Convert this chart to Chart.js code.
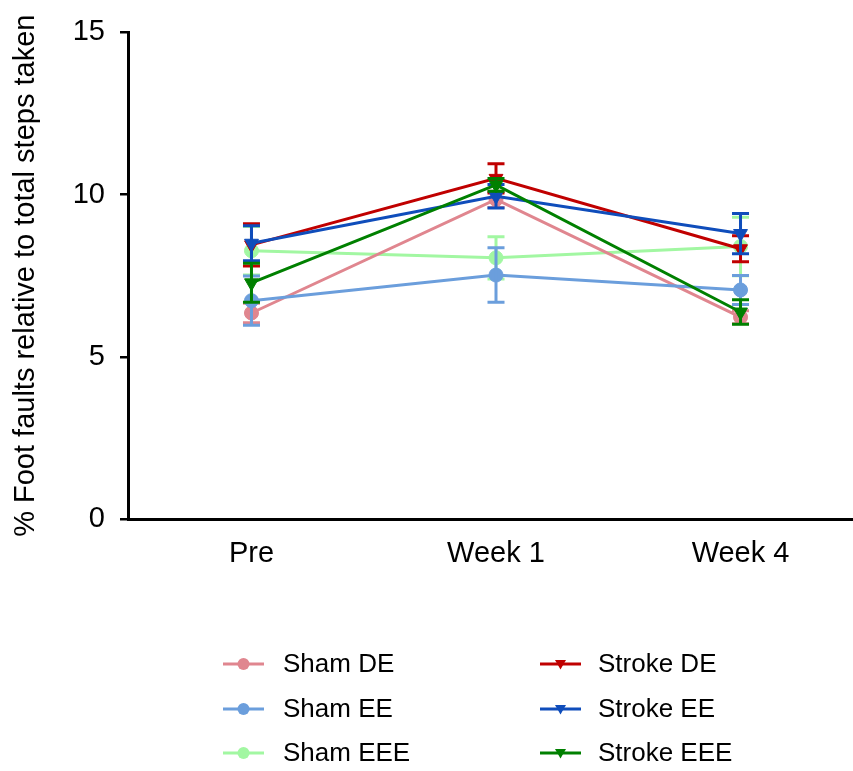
<!DOCTYPE html>
<html>
<head>
<meta charset="utf-8">
<script src="https://cdn.jsdelivr.net/npm/chart.js@4/dist/chart.umd.min.js"></script>
<style>
html,body{margin:0;padding:0;background:#fff;}
#wrap{width:853px;height:771px;}
</style>
</head>
<body>
<div id="wrap"><canvas id="c" width="853" height="771"></canvas></div>
<script>
const categories = ['Pre', 'Week 1', 'Week 4'];
const yTicks = [0, 5, 10, 15];
const seriesNames = ['Sham DE', 'Sham EE', 'Sham EEE', 'Stroke DE', 'Stroke EE', 'Stroke EEE'];

const shamDE = [6.35, 9.85, 6.22];
const shamDEErr = [0.3, 0.25, 0.2];
const shamEE = [6.73, 7.52, 7.06];
const shamEEErr = [0.76, 0.84, 0.45];
const shamEEE = [8.27, 8.05, 8.4];
const shamEEEErr = [0.75, 0.65, 0.9];
const strokeDE = [8.45, 10.5, 8.33];
const strokeDEErr = [0.65, 0.45, 0.4];
const strokeEE = [8.5, 9.95, 8.8];
const strokeEEErr = [0.54, 0.36, 0.62];
const strokeEEE = [7.28, 10.3, 6.38];
const strokeEEEErr = [0.6, 0.2, 0.38];

const seriesValues = [shamDE, shamEE, shamEEE, strokeDE, strokeEE, strokeEEE];
const seriesErrors = [shamDEErr, shamEEErr, shamEEEErr, strokeDEErr, strokeEEErr, strokeEEEErr];
const seriesColors = ['#E0868F', '#6B9EDC', '#A2F7A2', '#C00000', '#0F4DBB', '#008000'];
const seriesMarkers = ['circle', 'circle', 'circle', 'triangle', 'triangle', 'triangle'];
// stacking: lower number = drawn on top
const drawOrder = [5, 4, 6, 3, 2, 1];

const datasets = seriesNames.map((name, i) => ({
  label: name,
  data: categories.map((c, j) => ({x: j, y: seriesValues[i][j]})),
  errors: seriesErrors[i],
  borderColor: seriesColors[i],
  backgroundColor: seriesColors[i],
  pointBackgroundColor: seriesColors[i],
  pointBorderColor: seriesColors[i],
  pointStyle: seriesMarkers[i],
  rotation: seriesMarkers[i] === 'triangle' ? 180 : 0,
  pointRadius: seriesMarkers[i] === 'triangle' ? 8 : 7,
  borderWidth: 3,
  pointBorderWidth: 1,
  tension: 0,
  fill: false,
  order: drawOrder[i]
}));

const errorBarPlugin = {
  id: 'errorBars',
  afterDatasetDraw(chart, args) {
    const ds = chart.data.datasets[args.index];
    const meta = args.meta;
    const ys = chart.scales.y;
    const ctx = chart.ctx;
    ctx.save();
    ctx.strokeStyle = ds.borderColor;
    ctx.lineWidth = 3;
    ctx.lineCap = 'butt';
    meta.data.forEach((pt, j) => {
      const v = ds.data[j].y, e = ds.errors[j];
      const x = pt.x;
      const yTop = ys.getPixelForValue(v + e);
      const yBot = ys.getPixelForValue(v - e);
      const half = 8.5;
      ctx.beginPath();
      ctx.moveTo(x, yTop); ctx.lineTo(x, yBot);
      ctx.moveTo(x - half, yTop); ctx.lineTo(x + half, yTop);
      ctx.moveTo(x - half, yBot); ctx.lineTo(x + half, yBot);
      ctx.stroke();
    });
    ctx.restore();
  }
};

const legendPlugin = {
  id: 'gridLegend',
  afterDraw(chart) {
    const ctx = chart.ctx;
    const colX = [223, 540];
    const textX = [283, 598];
    const rowY = [664, 709, 753];
    ctx.save();
    ctx.font = '26px "Liberation Sans", Arial, sans-serif';
    ctx.textBaseline = 'middle';
    ctx.textAlign = 'left';
    chart.data.datasets.forEach((ds, i) => {
      const col = i < 3 ? 0 : 1;
      const row = i % 3;
      const x0 = colX[col], y0 = rowY[row];
      ctx.strokeStyle = ds.borderColor;
      ctx.lineWidth = 3;
      ctx.beginPath();
      ctx.moveTo(x0, y0); ctx.lineTo(x0 + 41, y0);
      ctx.stroke();
      ctx.fillStyle = ds.borderColor;
      const cx = x0 + 20.5;
      if (ds.pointStyle === 'circle') {
        ctx.beginPath();
        ctx.arc(cx, y0, 6, 0, Math.PI * 2);
        ctx.fill();
      } else {
        ctx.beginPath();
        ctx.moveTo(cx - 5.5, y0 - 4);
        ctx.lineTo(cx + 5.5, y0 - 4);
        ctx.lineTo(cx, y0 + 5.5);
        ctx.closePath();
        ctx.fill();
      }
      ctx.fillStyle = '#000';
      ctx.fillText(ds.label, textX[col], y0 + 1);
    });
    ctx.restore();
  }
};

new Chart(document.getElementById('c'), {
  type: 'line',
  data: {datasets},
  options: {
    responsive: false,
    animation: false,
    events: [],
    layout: {autoPadding: false, padding: {top: 31, bottom: 182, left: 0, right: 0}},
    plugins: {legend: {display: false}, tooltip: {enabled: false}},
    scales: {
      x: {
        type: 'linear',
        min: -0.505,
        max: 2.46,
        afterBuildTicks(scale) { scale.ticks = categories.map((c, i) => ({value: i})); },
        afterFit(scale) { scale.height = 70; },
        grid: {display: false, drawTicks: false},
        border: {display: true, color: '#000', width: 3},
        ticks: {
          color: '#000',
          padding: 18,
          maxRotation: 0,
          autoSkip: false,
          font: {family: '"Liberation Sans", Arial, sans-serif', size: 29},
          callback: (v) => categories[v]
        }
      },
      y: {
        min: 0,
        max: 15,
        afterBuildTicks(scale) { scale.ticks = yTicks.map(v => ({value: v})); },
        afterFit(scale) { scale.width = 128; },
        grid: {display: true, drawOnChartArea: false, drawTicks: true, tickLength: 8, color: '#000', lineWidth: 2.5},
        border: {display: true, color: '#000', width: 3},
        ticks: {
          color: '#000',
          padding: 15,
          font: {family: '"Liberation Sans", Arial, sans-serif', size: 29}
        },
        title: {
          display: true,
          text: '% Foot faults relative to total steps taken',
          color: '#000',
          padding: {top: 9, bottom: 0},
          font: {family: '"Liberation Sans", Arial, sans-serif', size: 29}
        }
      }
    }
  },
  plugins: [errorBarPlugin, legendPlugin]
});
</script>
</body>
</html>
